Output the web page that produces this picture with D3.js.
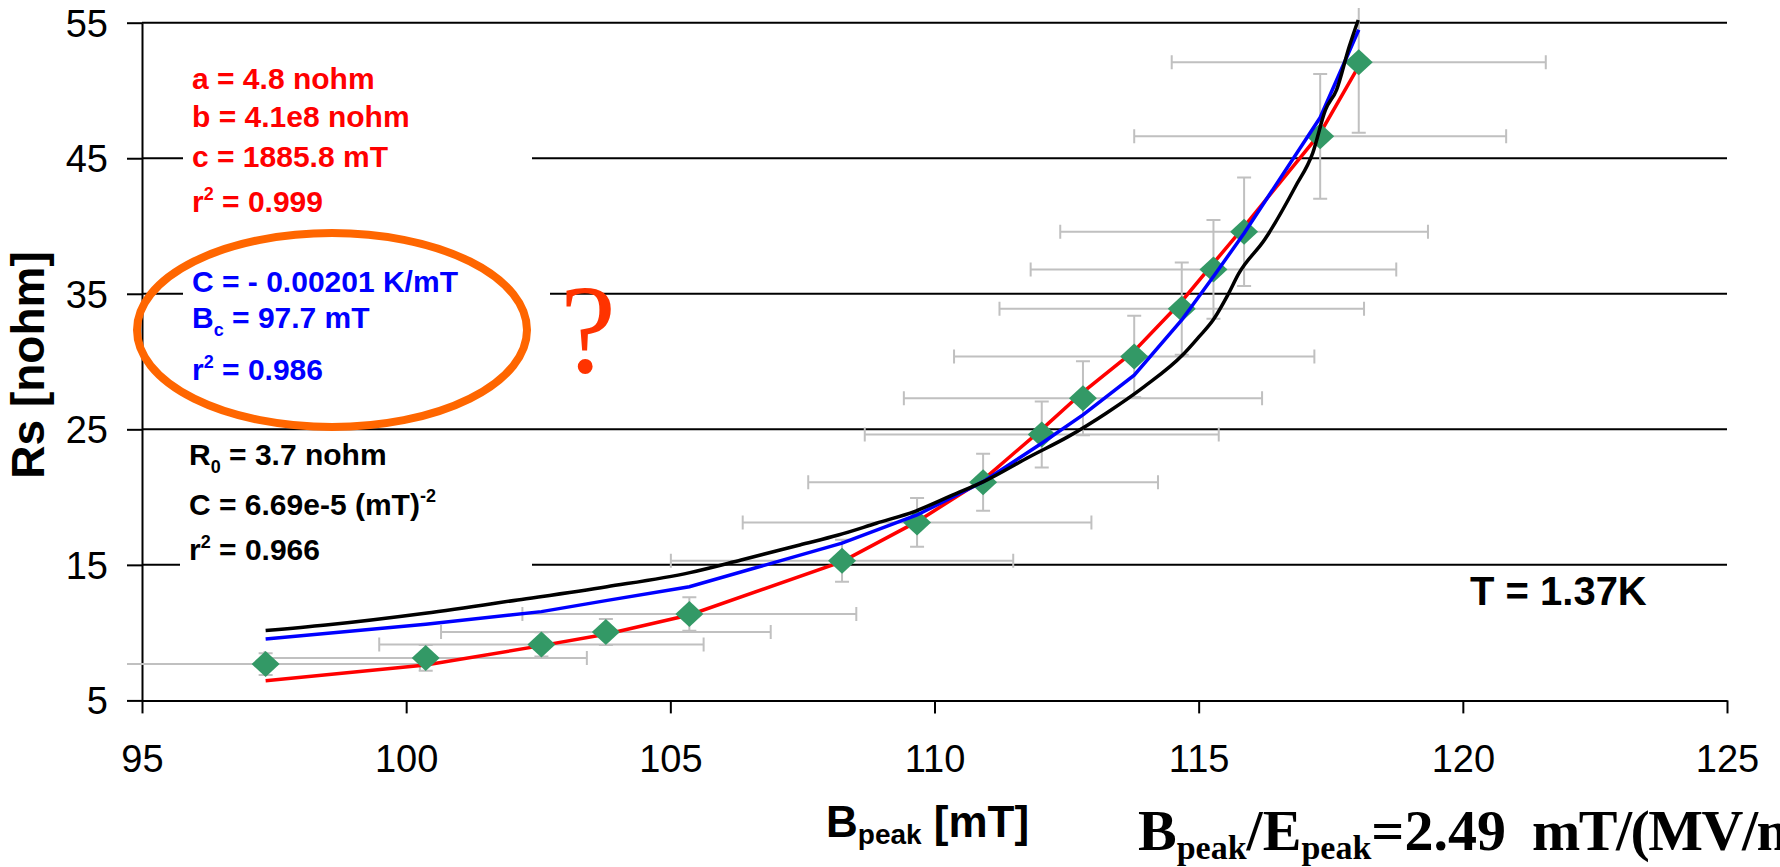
<!DOCTYPE html>
<html lang="en">
<head>
<meta charset="UTF-8">
<title>Rs vs Bpeak</title>
<script src="https://d3js.org/d3.v7.min.js"></script>
<style>
  body { margin: 0; background: #fff; }
  svg { display: block; }
</style>
</head>
<body>
<svg id="chart" width="1780" height="867"></svg>
<script>
// measured points
const bPeak = [97.34, 100.37, 102.56, 103.78, 105.36, 108.25, 109.67, 110.92, 112.03, 112.81, 113.78, 114.68, 115.28, 115.86, 117.30, 118.03];
const rs = [7.68, 8.13, 9.13, 10.05, 11.37, 15.3, 18.13, 21.09, 24.62, 27.29, 30.37, 33.9, 36.8, 39.57, 46.62, 52.08];
const bErr = [2.92, 3.05, 3.07, 3.12, 3.16, 3.24, 3.30, 3.31, 3.35, 3.39, 3.41, 3.45, 3.46, 3.48, 3.52, 3.54];
const rsErr = [0.8, 0.95, 0.89, 0.96, 1.24, 1.55, 1.8, 2.1, 2.44, 2.73, 3.0, 3.4, 3.64, 4.0, 4.6, 5.2];

// fits (red and blue at data x, black dense)
const redFit = [6.45, 7.61, 9.04, 9.88, 11.3, 15.24, 18.19, 21.27, 25.0, 27.75, 30.78, 34.45, 37.26, 39.96, 46.85, 51.8];
const blueFit = [9.53, 10.62, 11.55, 12.36, 13.39, 16.6, 18.68, 21.14, 23.97, 26.06, 29.0, 33.07, 36.27, 39.47, 48.0, 54.48];
const blackB = [97.34, 98.48, 100.36, 102.11, 103.80, 105.37, 106.34, 107.45, 108.18, 108.90, 109.63, 110.35, 110.93, 111.80, 112.53, 113.25, 113.97, 114.70, 115.0, 115.28, 115.55, 115.76, 116.25, 116.83, 117.16, 117.40, 117.61, 117.85, 118.02];
const blackRs = [10.15, 10.56, 11.43, 12.41, 13.39, 14.43, 15.36, 16.47, 17.2, 18.07, 18.95, 20.16, 21.14, 22.98, 24.46, 26.19, 28.15, 30.5, 31.8, 33.1, 34.9, 36.5, 39.0, 42.9, 45.4, 48.57, 50.05, 53.24, 55.2];

const xTicks = [95, 100, 105, 110, 115, 120, 125];
const yTicks = [5, 15, 25, 35, 45, 55];
const gridValues = [15, 25, 35, 45, 55];

const svg = d3.select("#chart");
const x = d3.scaleLinear().domain([95, 125]).range([142, 1727]);
const y = d3.scaleLinear().domain([5, 55]).range([700.4, 22.7]);
const arial = "Liberation Sans, Arial, sans-serif";
const times = "Liberation Serif, Times New Roman, serif";

// gridlines
svg.append("g").selectAll("line").data(gridValues).join("line")
    .attr("x1", x(95)).attr("x2", x(125))
    .attr("y1", d => y(d)).attr("y2", d => y(d))
    .attr("stroke", "#000").attr("stroke-width", 2);

// axes
const yAxis = svg.append("g").attr("transform", `translate(${x(95)},0)`)
    .call(d3.axisLeft(y).tickValues(yTicks).tickSize(15).tickSizeOuter(0).tickPadding(19));
const xAxis = svg.append("g").attr("transform", `translate(0,${y(5)})`)
    .call(d3.axisBottom(x).tickValues(xTicks).tickSize(13).tickSizeOuter(0).tickPadding(32));
[yAxis, xAxis].forEach(a => {
    a.selectAll("path, line").attr("stroke", "#000").attr("stroke-width", 2);
    a.selectAll("text").attr("font-family", arial).attr("font-size", 38).attr("fill", "#000");
});
yAxis.selectAll("text").attr("dy", "0.35em");

// white boxes behind the fit parameter text
const boxes = [[183, 40, 349, 190], [183, 250, 367, 150], [180, 440, 352, 140]];
svg.append("g").selectAll("rect").data(boxes).join("rect")
    .attr("x", d => d[0]).attr("y", d => d[1]).attr("width", d => d[2]).attr("height", d => d[3])
    .attr("fill", "#fff");

// error bars
svg.append("clipPath").attr("id", "plotclip").append("rect")
    .attr("x", 127).attr("y", 8).attr("width", 1700).attr("height", 720);
const eb = svg.append("g").attr("clip-path", "url(#plotclip)")
    .attr("stroke", "#c0c0c0").attr("stroke-width", 2).attr("fill", "none");
const cap = 7;
bPeak.forEach((b, i) => {
    const cx = x(b), cy = y(rs[i]);
    const x0 = x(b - bErr[i]), x1 = x(b + bErr[i]);
    const y0 = y(rs[i] + rsErr[i]), y1 = y(rs[i] - rsErr[i]);
    eb.append("path").attr("d",
        `M${x0},${cy}H${x1}M${x0},${cy - cap}V${cy + cap}M${x1},${cy - cap}V${cy + cap}` +
        `M${cx},${y0}V${y1}M${cx - cap},${y0}H${cx + cap}M${cx - cap},${y1}H${cx + cap}`);
});

const line = d3.line().x(d => x(d[0])).y(d => y(d[1]));

svg.append("path").datum(bPeak.map((b, i) => [b, redFit[i]]))
    .attr("d", line).attr("fill", "none").attr("stroke", "#ff0000").attr("stroke-width", 3.5);

// markers
svg.append("g").selectAll("path").data(bPeak.map((b, i) => [b, rs[i]])).join("path")
    .attr("d", d => {
        const cx = x(d[0]), cy = y(d[1]);
        return `M${cx},${cy - 13}L${cx + 14},${cy}L${cx},${cy + 13}L${cx - 14},${cy}Z`;
    })
    .attr("fill", "#339966");

svg.append("path").datum(bPeak.map((b, i) => [b, blueFit[i]]))
    .attr("d", line).attr("fill", "none").attr("stroke", "#0000ff").attr("stroke-width", 3.5);
svg.append("path").datum(blackB.map((b, i) => [b, blackRs[i]]))
    .attr("d", line.curve(d3.curveMonotoneX)).attr("fill", "none").attr("stroke", "#000")
    .attr("stroke-width", 3.5).attr("stroke-linejoin", "round");

// rich text helper: parts are [text, "sub"|"sup"|undefined, shift, size]
function rich(px, py, parts, size, color, family) {
    const t = svg.append("text").attr("x", px).attr("y", py)
        .attr("font-family", family || arial).attr("font-weight", "bold")
        .attr("font-size", size).attr("fill", color).style("white-space", "pre");
    let shift = 0;
    parts.forEach(p => {
        const s = t.append("tspan").text(p[0]);
        let target = 0, fs = size;
        if (p[1] === "sub") { target = p[2] || 8; fs = p[3] || 18; }
        if (p[1] === "sup") { target = p[2] || -12; fs = p[3] || 18; }
        if (target !== shift) s.attr("dy", target - shift);
        s.attr("font-size", fs);
        shift = target;
    });
    return t;
}

// red fit params
rich(192, 89, [["a = 4.8 nohm"]], 30, "#ff0000");
rich(192, 127, [["b = 4.1e8 nohm"]], 30, "#ff0000");
rich(192, 167, [["c = 1885.8 mT"]], 30, "#ff0000");
rich(192, 212, [["r"], ["2", "sup"], [" = 0.999"]], 30, "#ff0000");

// blue fit params
rich(192, 292, [["C = - 0.00201 K/mT"]], 30, "#0000ff");
rich(192, 328, [["B"], ["c", "sub"], [" = 97.7 mT"]], 30, "#0000ff");
rich(192, 380, [["r"], ["2", "sup"], [" = 0.986"]], 30, "#0000ff");

// black fit params
rich(189, 465, [["R"], ["0", "sub"], [" = 3.7 nohm"]], 30, "#000");
rich(189, 515, [["C = 6.69e-5 (mT)"], ["-2", "sup", -13]], 30, "#000");
rich(189, 560, [["r"], ["2", "sup"], [" = 0.966"]], 30, "#000");

rich(1470, 605, [["T = 1.37K"]], 40, "#000");

// axis titles
svg.append("text").attr("transform", "translate(44,365) rotate(-90)")
    .attr("text-anchor", "middle").attr("font-family", arial).attr("font-weight", "bold")
    .attr("font-size", 46).text("Rs [nohm]");
rich(826, 837, [["B"], ["peak", "sub", 7, 28], [" [mT]"]], 44, "#000");
const ratio = rich(1138, 850, [["B"], ["peak", "sub", 9, 34], ["/E"], ["peak", "sub", 9, 34], ["=2.49"], ["  mT/(MV/m)"]], 58, "#000", times);
ratio.select("tspan:last-child").attr("letter-spacing", -1.5);

// highlight ellipse and question mark
svg.append("ellipse").attr("cx", 332).attr("cy", 330).attr("rx", 195).attr("ry", 97)
    .attr("fill", "none").attr("stroke", "#ff6600").attr("stroke-width", 8);
svg.append("text").attr("x", 560).attr("y", 372).attr("font-family", times)
    .attr("font-size", 126).attr("fill", "#ff3300").text("?");
</script>
</body>
</html>
